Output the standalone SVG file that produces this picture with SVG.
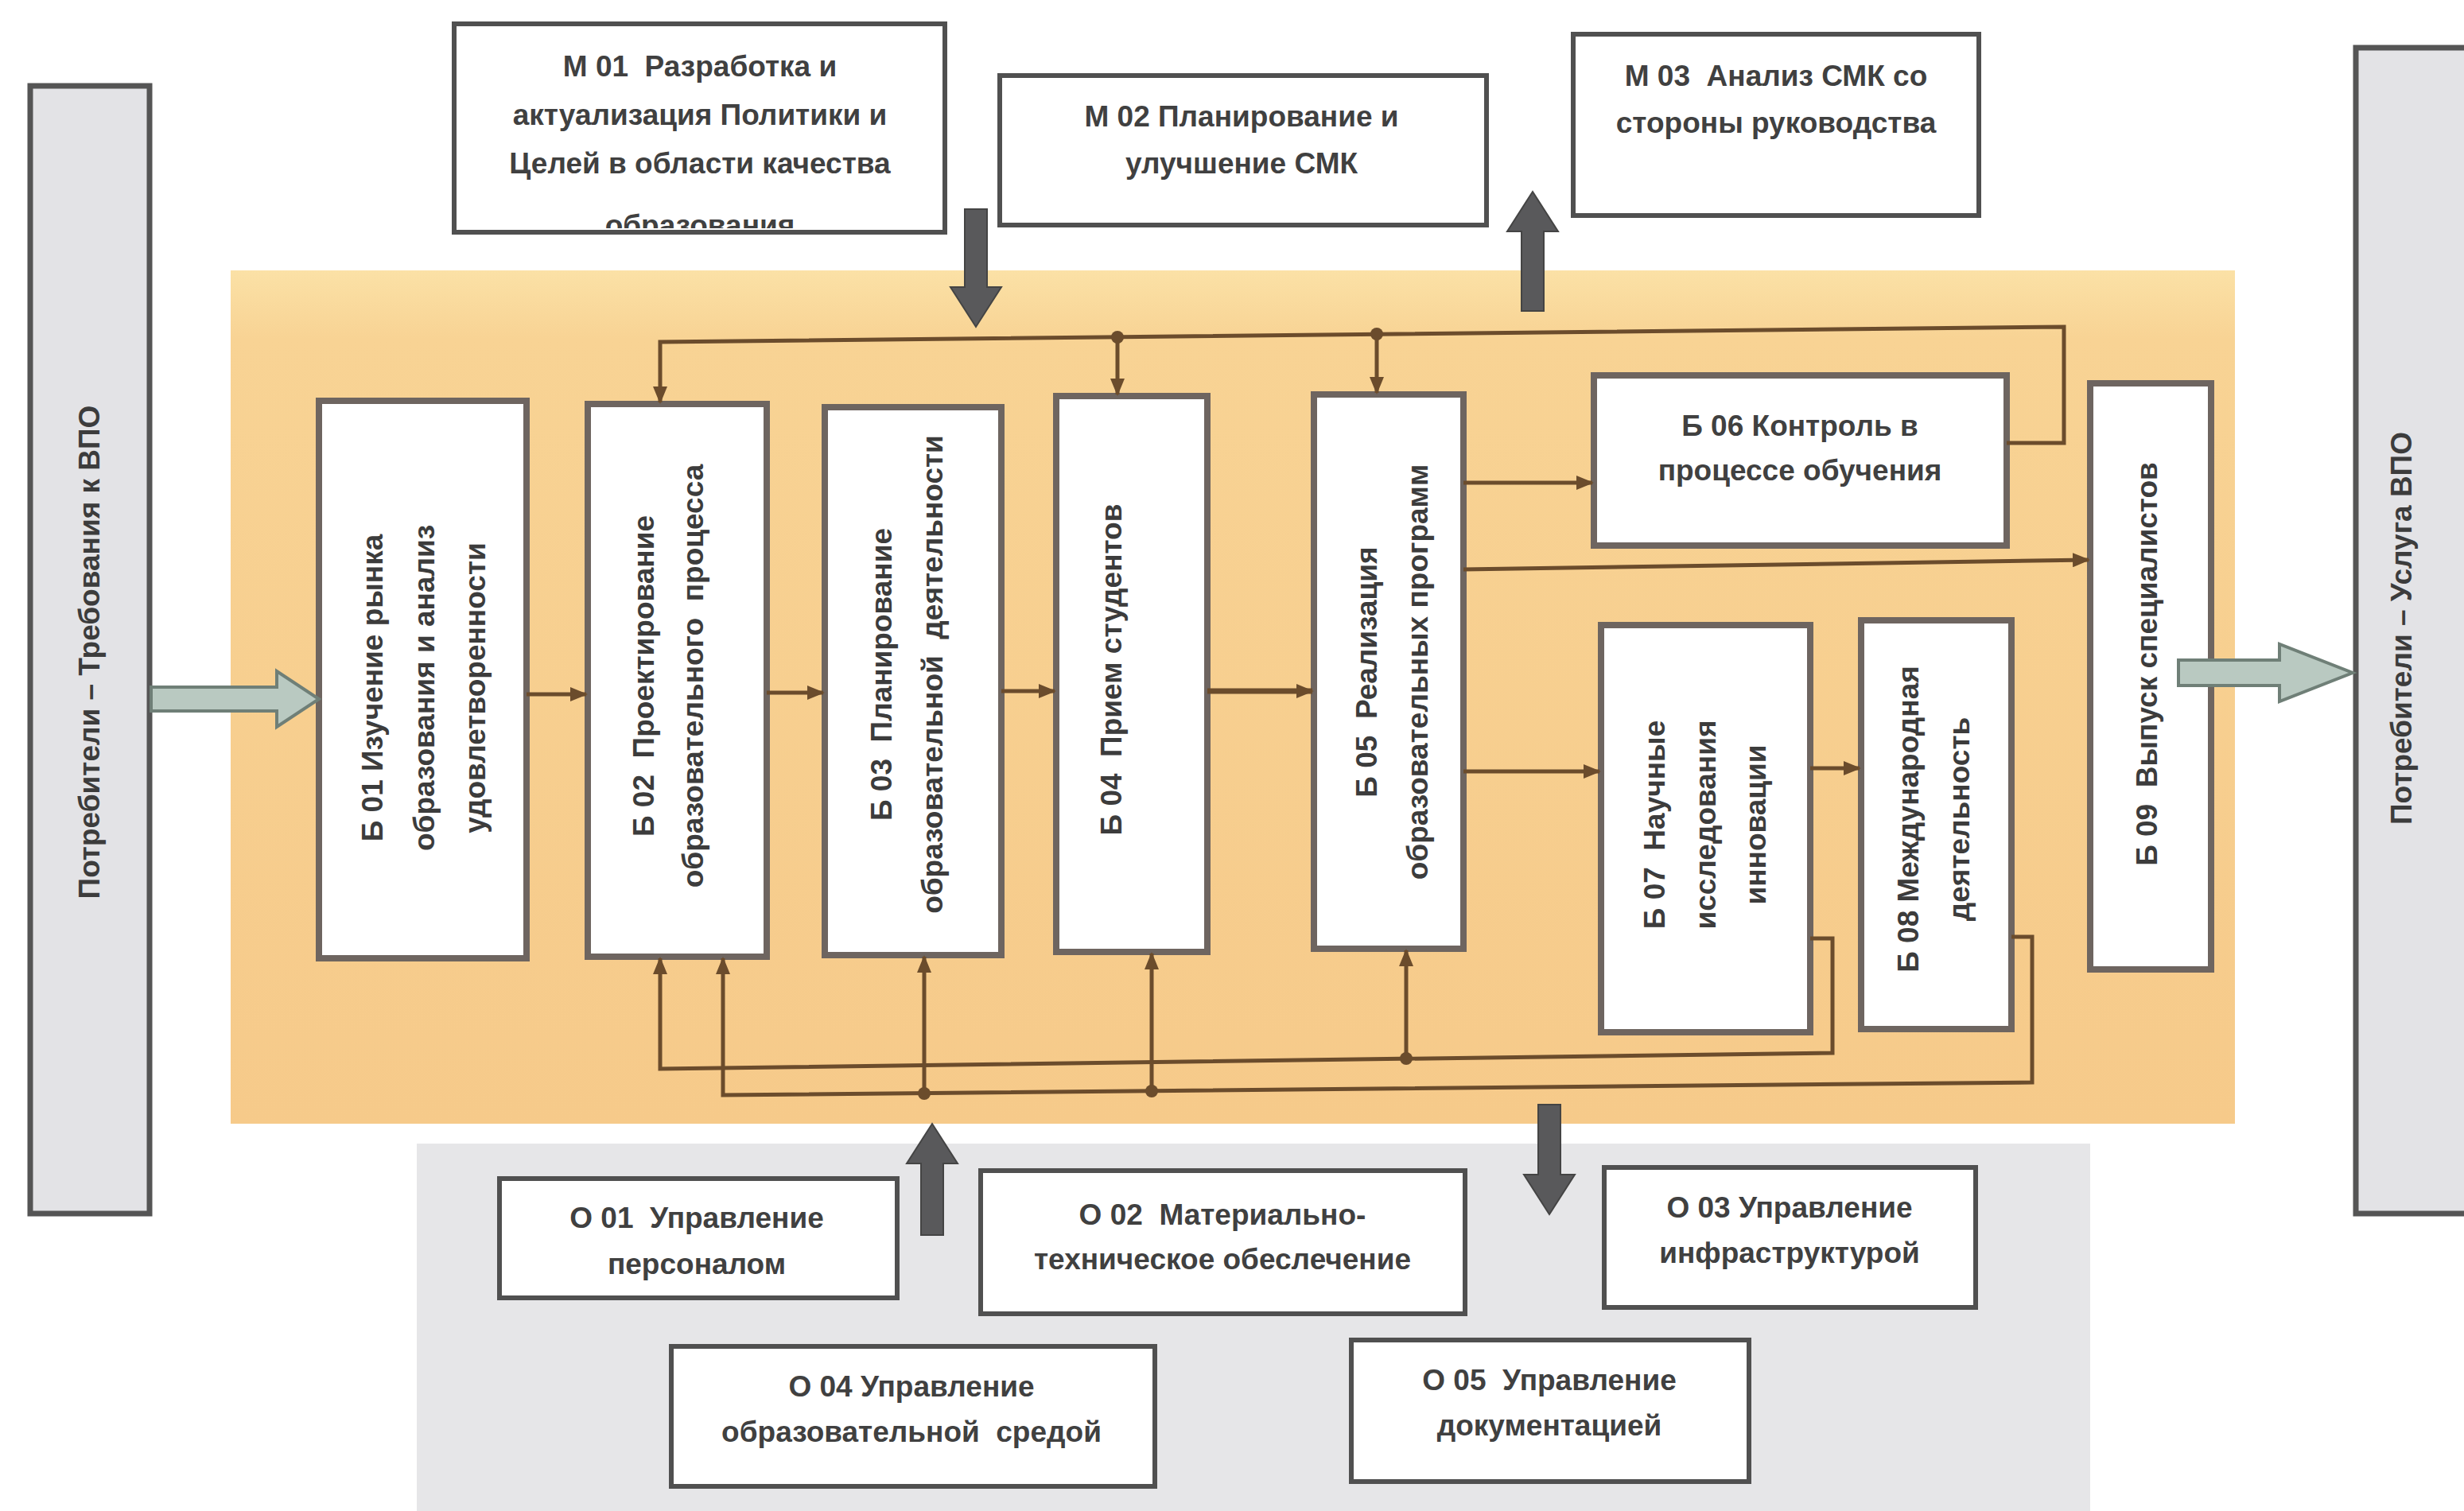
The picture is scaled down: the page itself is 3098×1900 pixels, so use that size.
<svg xmlns="http://www.w3.org/2000/svg" width="3098" height="1900" viewBox="0 0 3098 1900">
<style>
.bx{fill:#ffffff;stroke:#6e6560;stroke-width:8}
.mx{fill:#ffffff;stroke:#505050;stroke-width:6}
.side{fill:#e3e3e6;stroke:#555;stroke-width:7}
.t{font-family:"Liberation Sans",Arial,sans-serif;font-weight:bold;font-size:37px;fill:#404040;text-anchor:middle;dominant-baseline:central;white-space:pre}
.tv{font-family:"Liberation Sans",Arial,sans-serif;font-weight:bold;font-size:37px;fill:#3c3c3c;text-anchor:middle;dominant-baseline:central;white-space:pre}
.c{fill:none;stroke:#6b4c2c;stroke-width:5;stroke-linejoin:miter}
.c2{fill:none;stroke:#6b4c2c;stroke-width:7}
.dot{fill:#6b4c2c}
.big{fill:#59595b;stroke:#444;stroke-width:2}
.grn{fill:#b9c9c1;stroke:#6f7f77;stroke-width:4}
</style>
<defs>
<marker id="ah" markerWidth="22" markerHeight="18" refX="20" refY="9" orient="auto" markerUnits="userSpaceOnUse">
<path d="M0,0 L22,9 L0,18 z" fill="#6b4c2c"/>
</marker>
<linearGradient id="og" x1="0" y1="0" x2="0" y2="1">
<stop offset="0" stop-color="#fbe1a6"/>
<stop offset="0.08" stop-color="#f8d394"/>
<stop offset="1" stop-color="#f6ca8a"/>
</linearGradient>
<clipPath id="m1clip"><rect x="571" y="30" width="617" height="257"/></clipPath>
</defs>
<rect width="3098" height="1900" fill="#ffffff"/>
<!-- background regions -->
<rect x="290" y="340" width="2520" height="1073" fill="url(#og)"/>
<rect x="524" y="1438" width="2104" height="462" fill="#e6e6e8"/>

<!-- side bars -->
<g id="consumers-req">
<rect class="side" x="38" y="108" width="150" height="1418"/>
<text class="tv" transform="translate(112 820) rotate(-90)">Потребители – Требования к ВПО</text>
</g>
<g id="consumers-svc">
<rect class="side" x="2962" y="60" width="160" height="1466"/>
<text class="tv" transform="translate(3019 790) rotate(-90)">Потребители – Услуга ВПО</text>
</g>

<!-- M boxes -->
<g id="M01">
<rect class="mx" x="571" y="30" width="617" height="262"/>
<g clip-path="url(#m1clip)">
<text class="t" x="880" y="83">М 01  Разработка и</text>
<text class="t" x="880" y="144">актуализация Политики и</text>
<text class="t" x="880" y="205">Целей в области качества</text>
<text class="t" x="880" y="283">образования</text>
</g>
</g>
<g id="M02">
<rect class="mx" x="1257" y="95" width="612" height="188"/>
<text class="t" x="1561" y="146">М 02 Планирование и</text>
<text class="t" x="1561" y="205">улучшение СМК</text>
</g>
<g id="M03">
<rect class="mx" x="1978" y="43" width="510" height="228"/>
<text class="t" x="2233" y="95">М 03  Анализ СМК со</text>
<text class="t" x="2233" y="154">стороны руководства</text>
</g>

<!-- B boxes -->
<g id="B01">
<rect class="bx" x="401" y="504" width="261" height="701"/>
<text class="tv" transform="translate(532 865) rotate(-90)"><tspan x="0" y="-64">Б 01 Изучение рынка</tspan><tspan x="0" y="1">образования и анализ</tspan><tspan x="0" y="65">удовлетворенности</tspan></text>
</g>
<g id="B02">
<rect class="bx" x="739" y="508" width="225" height="695"/>
<text class="tv" transform="translate(840 850) rotate(-90)"><tspan x="0" y="-31">Б 02  Проектирование</tspan><tspan x="0" y="31">образовательного  процесса</tspan></text>
</g>
<g id="B03">
<rect class="bx" x="1037" y="512" width="222" height="689"/>
<text class="tv" transform="translate(1140 848) rotate(-90)"><tspan x="0" y="-32">Б 03  Планирование</tspan><tspan x="0" y="32">образовательной  деятельности</tspan></text>
</g>
<g id="B04">
<rect class="bx" x="1328" y="498" width="190" height="699"/>
<text class="tv" transform="translate(1397 842) rotate(-90)">Б 04  Прием студентов</text>
</g>
<g id="B05">
<rect class="bx" x="1652" y="496" width="188" height="697"/>
<text class="tv" transform="translate(1750 845) rotate(-90)"><tspan x="0" y="-32">Б 05  Реализация</tspan><tspan x="0" y="32">образовательных программ</tspan></text>
</g>
<g id="B06">
<rect class="bx" x="2004" y="472" width="519" height="214"/>
<text class="t" x="2263" y="535">Б 06 Контроль в</text>
<text class="t" x="2263" y="591">процессе обучения</text>
</g>
<g id="B07">
<rect class="bx" x="2013" y="786" width="263" height="512"/>
<text class="tv" transform="translate(2144 1037) rotate(-90)"><tspan x="0" y="-64">Б 07  Научные</tspan><tspan x="0" y="0">исследования</tspan><tspan x="0" y="63">инновации</tspan></text>
</g>
<g id="B08">
<rect class="bx" x="2340" y="780" width="189" height="514"/>
<text class="tv" transform="translate(2431 1030) rotate(-90)"><tspan x="0" y="-32">Б 08 Международная</tspan><tspan x="0" y="32">деятельность</tspan></text>
</g>
<g id="B09">
<rect class="bx" x="2628" y="482" width="152" height="737"/>
<text class="tv" transform="translate(2699 835) rotate(-90)">Б 09  Выпуск специалистов</text>
</g>

<!-- O boxes -->
<g id="O01">
<rect class="mx" x="628" y="1482" width="500" height="150"/>
<text class="t" x="876" y="1531">О 01  Управление</text>
<text class="t" x="876" y="1589">персоналом</text>
</g>
<g id="O02">
<rect class="mx" x="1233" y="1472" width="609" height="180"/>
<text class="t" x="1537" y="1527">О 02  Материально-</text>
<text class="t" x="1537" y="1583">техническое обеслечение</text>
</g>
<g id="O03">
<rect class="mx" x="2017" y="1468" width="467" height="176"/>
<text class="t" x="2250" y="1518">О 03 Управление</text>
<text class="t" x="2250" y="1575">инфраструктурой</text>
</g>
<g id="O04">
<rect class="mx" x="844" y="1693" width="608" height="176"/>
<text class="t" x="1146" y="1743">О 04 Управление</text>
<text class="t" x="1146" y="1800">образовательной  средой</text>
</g>
<g id="O05">
<rect class="mx" x="1699" y="1685" width="500" height="178"/>
<text class="t" x="1948" y="1735">О 05  Управление</text>
<text class="t" x="1948" y="1792">документацией</text>
</g>

<!-- connectors -->
<g id="connectors">
<!-- big input/output arrows -->
<path class="grn" d="M190,864 H348 V844 L401,879 L348,914 V894 H190 z"/>
<path class="grn" d="M2739,830 H2866 V810 L2958,846 L2866,882 V862 H2739 z"/>
<!-- management / support arrows -->
<path class="big" d="M1213,263 H1241 V361 H1259 L1227,411 L1195,361 H1213 z"/>
<path class="big" d="M1913,391 H1941 V291 H1959 L1927,241 L1895,291 H1913 z"/>
<path class="big" d="M1158,1553 H1186 V1463 H1204 L1172,1413 L1140,1463 H1158 z"/>
<path class="big" d="M1934,1389 H1962 V1477 H1980 L1948,1527 L1916,1477 H1934 z"/>

<!-- main flow -->
<path class="c" d="M662,873 H737" marker-end="url(#ah)"/>
<path class="c" d="M964,871 H1035" marker-end="url(#ah)"/>
<path class="c" d="M1259,869 H1326" marker-end="url(#ah)"/>
<path class="c2" d="M1518,869 H1650" marker-end="url(#ah)"/>

<!-- from Б05 -->
<path class="c" d="M1840,607 H2002" marker-end="url(#ah)"/>
<path class="c" d="M1840,716 L2626,704" marker-end="url(#ah)"/>
<path class="c" d="M1840,970 H2011" marker-end="url(#ah)"/>
<path class="c" d="M2276,966 H2338" marker-end="url(#ah)"/>

<!-- top feedback bus from Б06 -->
<path class="c" d="M2523,557 H2595 V411 L830,430 V506" marker-end="url(#ah)"/>
<path class="c" d="M1405,424 V496" marker-end="url(#ah)"/>
<path class="c" d="M1731,420 V494" marker-end="url(#ah)"/>
<circle class="dot" cx="1405" cy="424" r="8"/>
<circle class="dot" cx="1731" cy="420" r="8"/>

<!-- bottom feedback buses from Б07 and Б08 -->
<path class="c" d="M2276,1180 H2304 V1324 L830,1344 V1205" marker-end="url(#ah)"/>
<path class="c" d="M2529,1178 H2555 V1361 L909,1377 V1205" marker-end="url(#ah)"/>
<path class="c" d="M1162,1375 V1203" marker-end="url(#ah)"/>
<path class="c" d="M1448,1372 V1199" marker-end="url(#ah)"/>
<path class="c" d="M1768,1331 V1195" marker-end="url(#ah)"/>
<circle class="dot" cx="1162" cy="1375" r="8"/>
<circle class="dot" cx="1448" cy="1372" r="8"/>
<circle class="dot" cx="1768" cy="1331" r="8"/>
</g>
</svg>
